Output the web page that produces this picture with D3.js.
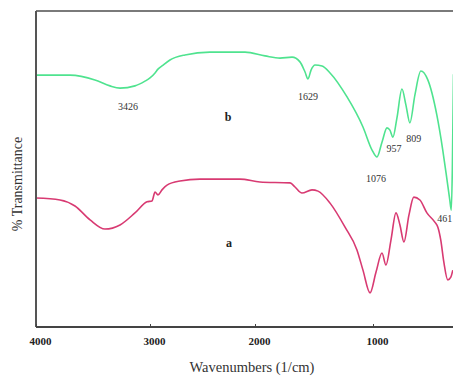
<!DOCTYPE html>
<html>
<head>
<meta charset="utf-8">
<script src="https://cdn.jsdelivr.net/npm/d3@7"></script>
<style>
	body { margin: 0; background: #fff; }
	text { font-family: "Liberation Serif", "DejaVu Serif", serif; }
</style>
</head>
<body>
<script>
// wavenumber (1/cm) and transmittance (%)
var wave_b = [4000, 3702, 3483, 3351, 3263, 3132, 3044, 3000, 2952, 2924, 2886, 2810, 2667, 2429, 2095, 1915, 1788, 1686, 1619, 1576, 1551, 1525, 1491, 1432, 1364, 1220, 1085, 1008, 966, 923, 880, 855, 829, 795, 752, 718, 684, 641, 590, 530, 453, 402, 368, 342, 329, 320, 310];
var trans_b = [79.7, 79.7, 78.2, 76.3, 75.6, 76.3, 77.8, 78.8, 80.4, 81.6, 82.6, 84.5, 86.1, 87.0, 87.0, 85.8, 85.1, 85.4, 83.9, 80.7, 78.5, 81.3, 82.9, 82.6, 80.4, 72.8, 63.3, 56.0, 53.8, 58.5, 63.0, 62.3, 60.1, 66.1, 75.3, 70.3, 64.6, 73.4, 81.0, 78.2, 67.1, 56.0, 47.2, 40.2, 37.0, 49.7, 80.0];

var wave_a = [4000, 3789, 3658, 3526, 3395, 3263, 3132, 3026, 2981, 2952, 2924, 2886, 2838, 2714, 2524, 2143, 1958, 1703, 1661, 1602, 1517, 1466, 1364, 1237, 1136, 1085, 1025, 974, 923, 889, 846, 803, 769, 735, 692, 650, 598, 538, 470, 444, 419, 393, 359, 333, 316];
var trans_a = [40.8, 40.2, 38.3, 33.9, 31.0, 32.3, 36.1, 39.6, 39.9, 42.7, 41.8, 43.4, 44.9, 46.2, 46.8, 46.8, 45.9, 45.6, 44.3, 42.4, 43.4, 43.0, 39.2, 31.6, 24.4, 18.0, 10.8, 17.4, 23.4, 19.6, 27.5, 36.1, 32.3, 26.9, 35.4, 41.1, 40.2, 36.1, 33.2, 31.6, 27.5, 20.6, 14.9, 15.8, 18.0];

// peak labels and curve names
var note_text = ["3426", "1629", "957", "809", "1076", "461"];
var note_wave = [3193, 1551, 821, 650, 974, 385];
var note_trans = [68.7, 71.8, 55.4, 58.5, 45.9, 33.2];

var name_text = ["b", "a"];
var name_wave = [2257, 2248];
var name_trans = [65.2, 25.3];

var tick_values = [4000, 3000, 2000, 1000];

var width = 453, height = 376;
var left = 36, top_ = 11, bottom = 327;

var svg = d3.select("body").append("svg")
	.attr("width", width)
	.attr("height", height);

// the printed axis is not evenly spaced, so use a piecewise scale
var x = d3.scaleLinear()
	.domain([4000, 3000, 2000, 1000, 400])
	.range([left, 150, 255, 373, 443]);
var y = d3.scaleLinear().domain([0, 100]).range([bottom, top_]);

svg.append("clipPath").attr("id", "plot")
	.append("rect")
	.attr("x", left).attr("y", top_)
	.attr("width", width - left).attr("height", bottom - top_);

var line = d3.line()
	.x(function(d) { return x(d[0]); })
	.y(function(d) { return y(d[1]); })
	.curve(d3.curveMonotoneX);

var data_b = d3.zip(wave_b, trans_b);
var data_a = d3.zip(wave_a, trans_a);

svg.append("path")
	.datum(data_b)
	.attr("clip-path", "url(#plot)")
	.attr("d", line)
	.attr("fill", "none")
	.attr("stroke", "#4fe38f")
	.attr("stroke-width", 1.6);

svg.append("path")
	.datum(data_a)
	.attr("clip-path", "url(#plot)")
	.attr("d", line)
	.attr("fill", "none")
	.attr("stroke", "#d83a72")
	.attr("stroke-width", 1.6);

// frame: top and left
svg.append("line")
	.attr("x1", left).attr("x2", width)
	.attr("y1", top_).attr("y2", top_)
	.attr("stroke", "#7a7a7a").attr("stroke-width", 2);
svg.append("line")
	.attr("x1", left).attr("x2", left)
	.attr("y1", top_).attr("y2", bottom)
	.attr("stroke", "#555").attr("stroke-width", 2);

// x axis
var x_axis = svg.append("g")
	.attr("transform", "translate(0," + bottom + ")")
	.call(d3.axisBottom(x).tickValues(tick_values).tickSizeInner(-3).tickSizeOuter(0).tickPadding(10).tickFormat(d3.format("d")));
x_axis.select(".domain")
	.attr("d", "M" + left + ",0H" + width)
	.attr("stroke", "#444").attr("stroke-width", 2);
x_axis.selectAll(".tick line").attr("stroke", "#444");
x_axis.selectAll(".tick text")
	.attr("dx", 4)
	.attr("font-family", "Liberation Serif, serif")
	.attr("font-size", 11)
	.attr("font-weight", "bold")
	.attr("fill", "#222");

svg.append("text")
	.attr("x", 252)
	.attr("y", 372)
	.attr("text-anchor", "middle")
	.attr("font-size", 14.5)
	.attr("fill", "#333")
	.text("Wavenumbers (1/cm)");

svg.append("text")
	.attr("transform", "translate(22,184) rotate(-90)")
	.attr("text-anchor", "middle")
	.attr("font-size", 14)
	.attr("fill", "#333")
	.text("% Transmittance");

// peak labels
for (var i = 0; i < note_text.length; i++) {
	svg.append("text")
		.attr("x", x(note_wave[i]))
		.attr("y", y(note_trans[i]))
		.attr("text-anchor", "middle")
		.attr("font-size", 10)
		.attr("fill", "#333")
		.text(note_text[i]);
}

for (var j = 0; j < name_text.length; j++) {
	svg.append("text")
		.attr("x", x(name_wave[j]))
		.attr("y", y(name_trans[j]))
		.attr("text-anchor", "middle")
		.attr("font-size", 12)
		.attr("font-weight", "bold")
		.attr("fill", "#222")
		.text(name_text[j]);
}
</script>
</body>
</html>
